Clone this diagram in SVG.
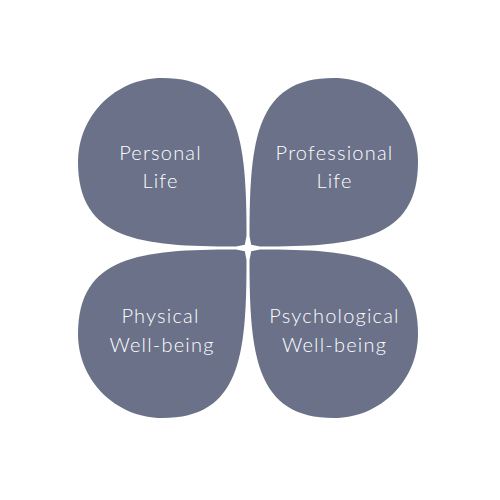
<svg xmlns="http://www.w3.org/2000/svg" width="500" height="500" viewBox="0 0 500 500">
  <style>
    .petal { fill: #6a7189; }
    .label { fill: #ffffff; font-family: Lato, "Open Sans", "Liberation Sans", sans-serif; font-size: 20px; font-weight: 300; text-anchor: middle; letter-spacing: 1.2px; }
  </style>
  <defs>
    <path id="petal" d="M246.5,236 C246.5,140 240,78 162,78 C115.6,78 78,115.6 78,162 C78,240 140,246.5 236,246.5 L244.8,244.8 Z"/>
  </defs>
  <rect width="500" height="500" fill="#ffffff"/>
  <g id="personal-life">
    <use href="#petal" class="petal"/>
    <text class="label" x="160.5" y="160">Personal</text>
    <text class="label" x="160.5" y="188">Life</text>
  </g>
  <g id="professional-life">
    <use href="#petal" class="petal" transform="translate(496,0) scale(-1,1)"/>
    <text class="label" x="334.5" y="160">Professional</text>
    <text class="label" x="334.5" y="188">Life</text>
  </g>
  <g id="physical-well-being">
    <use href="#petal" class="petal" transform="translate(0,496) scale(1,-1)"/>
    <text class="label" x="160.5" y="323">Physical</text>
    <text class="label" x="162" y="352">Well-being</text>
  </g>
  <g id="psychological-well-being">
    <use href="#petal" class="petal" transform="translate(496,496) scale(-1,-1)"/>
    <text class="label" x="334.5" y="323">Psychological</text>
    <text class="label" x="334.5" y="352">Well-being</text>
  </g>
  <g id="connectors"/>
</svg>
